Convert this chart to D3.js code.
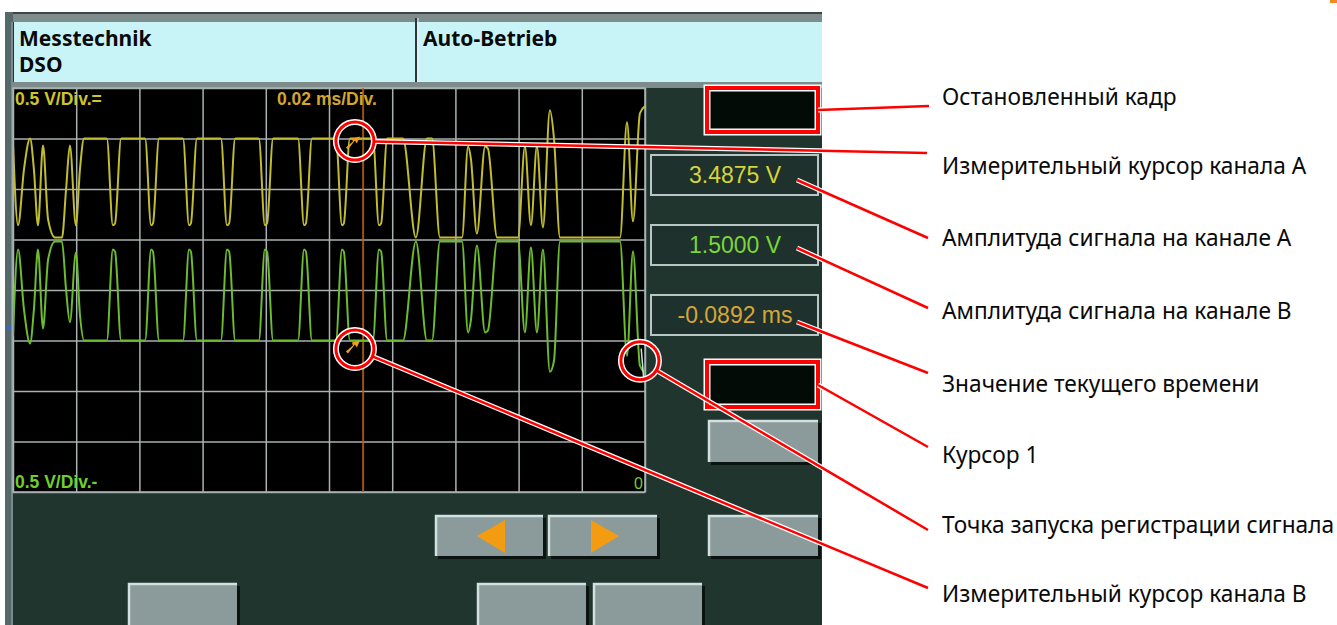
<!DOCTYPE html>
<html lang="ru">
<head>
<meta charset="UTF-8">
<title>DSO – Messtechnik</title>
<script src="https://d3js.org/d3.v7.min.js"></script>
<style>
  body { margin: 0; background: #fff; }
  svg { display: block; }
</style>
</head>
<body>
<div id="chart"></div>
<script>
// time of each trace point in microseconds, 0 = trigger at the right edge
const timeUs = [
  -200.0, -198.4, -196.5, -194.6, -193.4, -192.1, -190.5, -188.9, -186.7, -184.5,
  -183.2, -182.0, -180.1, -178.8, -177.5,
  -170.3, -168.4, -167.7, -165.8,
  -158.2, -156.3, -155.7, -153.8,
  -146.2, -144.3, -143.7, -141.8,
  -134.2, -132.3, -131.6, -129.7,
  -122.2, -120.3, -119.6, -117.7,
  -109.8, -107.9, -107.3, -105.4,
  -97.8, -95.9, -95.3, -93.4,
  -86.1, -84.2, -83.5, -81.6,
  -76.6, -72.5, -69.0, -67.4, -64.9, -57.9,
  -56.0, -55.1, -53.2, -50.6, -49.7, -46.8, -40.2,
  -38.0, -36.1, -34.2, -32.3, -30.1, -28.8, -26.9, -7.9,
  -5.7, -3.8, -1.6, 0.0
];
// channel A (yellow) in volts
const chanA = [
  3.45, 2.64, 3.20, 3.50, 3.20, 2.64, 3.43, 2.70, 2.52, 2.52,
  3.00, 3.43, 2.64, 3.20, 3.50,
  3.50, 2.64, 2.66, 3.50,
  3.50, 2.64, 2.66, 3.50,
  3.50, 2.64, 2.66, 3.50,
  3.50, 2.64, 2.66, 3.50,
  3.50, 2.64, 2.66, 3.50,
  3.50, 2.64, 2.66, 3.50,
  3.50, 2.64, 2.66, 3.50,
  3.50, 2.64, 2.66, 3.50,
  3.50, 2.52, 3.50, 3.50, 2.52, 2.52,
  3.42, 3.30, 2.56, 3.42, 3.40, 2.52, 2.52,
  3.42, 2.64, 3.42, 2.62, 3.78, 3.50, 2.52, 2.52,
  3.66, 2.68, 3.75, 3.82
];
// channel B (green) in volts
const chanB = [
  1.55, 2.40, 1.80, 1.47, 1.80, 2.40, 1.62, 2.30, 2.48, 2.48,
  2.00, 1.68, 2.37, 1.75, 1.50,
  1.50, 2.40, 2.38, 1.50,
  1.50, 2.40, 2.38, 1.50,
  1.50, 2.40, 2.38, 1.50,
  1.50, 2.40, 2.38, 1.50,
  1.50, 2.40, 2.38, 1.50,
  1.50, 2.40, 2.38, 1.50,
  1.50, 2.40, 2.38, 1.50,
  1.50, 2.40, 2.38, 1.50,
  1.50, 2.48, 1.50, 1.50, 2.48, 2.48,
  1.58, 1.70, 2.44, 1.58, 1.60, 2.48, 2.48,
  1.58, 2.42, 1.58, 2.40, 1.19, 1.30, 2.48, 2.48,
  1.35, 2.38, 1.25, 1.18
];

const cursorUs = -89.2;
const readouts = ["3.4875 V", "1.5000 V", "-0.0892 ms"];
const titles = ["Messtechnik", "DSO", "Auto-Betrieb"];
const scaleLabels = ["0.5 V/Div.=", "0.02 ms/Div.", "0.5 V/Div.-", "0"];
const notes = [
  "Остановленный кадр",
  "Измерительный курсор канала A",
  "Амплитуда сигнала на канале A",
  "Амплитуда сигнала на канале B",
  "Значение текущего времени",
  "Курсор 1",
  "Точка запуска регистрации сигнала",
  "Измерительный курсор канала B"
];
// marked points on the traces: [time us, volts]
const callouts = [[-91.8, 3.475], [-91.8, 1.416], [-1.6, 1.30]];

const width = 1337, height = 625;
const plot = {left: 13, right: 645, top: 88, bottom: 492};

const svg = d3.select("#chart").append("svg")
    .attr("width", width)
    .attr("height", height);

const x = d3.scaleLinear().domain([-200, 0]).range([plot.left, plot.right]);
const y = d3.scaleLinear().domain([0, 4]).range([plot.bottom, plot.top]);

// device frame
svg.append("rect").attr("x", 5).attr("y", 12).attr("width", 817).attr("height", 613).attr("fill", "#21352f");
svg.append("rect").attr("x", 5).attr("y", 12).attr("width", 817).attr("height", 10).attr("fill", "#7f8c8c");
svg.append("line").attr("x1", 5).attr("x2", 822).attr("y1", 13).attr("y2", 13).attr("stroke", "#3c4646").attr("stroke-width", 2);
svg.append("rect").attr("x", 14).attr("y", 22).attr("width", 808).attr("height", 60).attr("fill", "#c9f4f7");
svg.append("rect").attr("x", 5).attr("y", 82).attr("width", 817).attr("height", 6).attr("fill", "#7d8b8b");
svg.append("rect").attr("x", 5).attr("y", 12).attr("width", 8).attr("height", 613).attr("fill", "#55686a");
svg.append("line").attr("x1", 12).attr("x2", 12).attr("y1", 22).attr("y2", 625).attr("stroke", "#9fb0b2").attr("stroke-width", 1);
svg.append("line").attr("x1", 416).attr("x2", 416).attr("y1", 18).attr("y2", 82).attr("stroke", "#2e3838").attr("stroke-width", 2);
svg.append("line").attr("x1", 418).attr("x2", 418).attr("y1", 18).attr("y2", 82).attr("stroke", "#eef").attr("stroke-width", 1);

svg.append("text").attr("x", 19).attr("y", 46).text(titles[0]);
svg.append("text").attr("x", 19).attr("y", 72).text(titles[1]);
svg.append("text").attr("x", 423).attr("y", 46).text(titles[2]);
svg.selectAll("text")
    .attr("font-family", "Noto Sans, sans-serif")
    .attr("font-weight", "bold")
    .attr("font-size", 21)
    .attr("fill", "#0a0a0a");

// scope screen
svg.append("rect")
    .attr("x", plot.left).attr("y", plot.top)
    .attr("width", plot.right - plot.left).attr("height", plot.bottom - plot.top)
    .attr("fill", "#000");

const gx = svg.append("g")
    .attr("transform", `translate(0,${plot.bottom})`)
    .call(d3.axisBottom(x).ticks(10).tickSize(-(plot.bottom - plot.top)).tickFormat(""));
const gy = svg.append("g")
    .attr("transform", `translate(${plot.left},0)`)
    .call(d3.axisLeft(y).ticks(8).tickSize(-(plot.right - plot.left)).tickFormat(""));
gx.select(".domain").remove();
gy.select(".domain").remove();
svg.selectAll(".tick line").attr("stroke", "#a9b1b1").attr("stroke-width", 1.5);
svg.append("rect")
    .attr("x", plot.left).attr("y", plot.top)
    .attr("width", plot.right - plot.left).attr("height", plot.bottom - plot.top)
    .attr("fill", "none").attr("stroke", "#a9b1b1").attr("stroke-width", 1.5);

svg.append("clipPath").attr("id", "screen")
  .append("rect")
    .attr("x", plot.left).attr("y", plot.top)
    .attr("width", plot.right - plot.left).attr("height", plot.bottom - plot.top);

// cursor line
svg.append("line")
    .attr("x1", x(cursorUs)).attr("x2", x(cursorUs))
    .attr("y1", plot.top).attr("y2", plot.bottom)
    .attr("stroke", "#b8611c").attr("stroke-width", 2).attr("opacity", 0.85);

const line = d3.line()
    .curve(d3.curveMonotoneX)
    .x(d => x(d[0]))
    .y(d => y(d[1]));

const traces = svg.append("g").attr("clip-path", "url(#screen)");
traces.append("path")
    .attr("d", line(timeUs.map((t, i) => [t, chanA[i]])))
    .attr("fill", "none").attr("stroke", "#c2bd30").attr("stroke-width", 2);
traces.append("path")
    .attr("d", line(timeUs.map((t, i) => [t, chanB[i]])))
    .attr("fill", "none").attr("stroke", "#6dbb2e").attr("stroke-width", 2);

// measuring cursor marks
const markPath = "M-7,5 L0,-1 L-1,-4 L7,-6 L4,1 L2,-2 L-5,7 Z";
[[callouts[0][0], 3.46], [callouts[1][0], 1.44]].forEach(d => {
  traces.append("path")
      .attr("d", markPath)
      .attr("transform", `translate(${x(d[0]) - 2},${y(d[1])})`)
      .attr("fill", "#f0a020");
});
// trigger mark
traces.append("line")
    .attr("x1", x(-1.2)).attr("x2", x(-0.4))
    .attr("y1", y(1.42)).attr("y2", y(1.12))
    .attr("stroke", "#bfe8e0").attr("stroke-width", 1.5);
svg.append("rect").attr("x", 7).attr("y", y(1.65)).attr("width", 4).attr("height", 5).attr("fill", "#3a66c8");

// scale labels on screen
const labelFont = "Liberation Sans, Arial, sans-serif";
svg.append("text").attr("x", 15).attr("y", 105).text(scaleLabels[0])
    .attr("fill", "#cfc52a").attr("font-size", 17.5).attr("font-weight", "bold").attr("font-family", labelFont);
svg.append("text").attr("x", 277).attr("y", 105).text(scaleLabels[1])
    .attr("fill", "#d3a72c").attr("font-size", 17.5).attr("font-weight", "bold").attr("font-family", labelFont);
svg.append("text").attr("x", 15).attr("y", 488).text(scaleLabels[2])
    .attr("fill", "#6fd02a").attr("font-size", 17.5).attr("font-weight", "bold").attr("font-family", labelFont);
svg.append("text").attr("x", 643).attr("y", 489).attr("text-anchor", "end").text(scaleLabels[3])
    .attr("fill", "#6fd02a").attr("font-size", 16).attr("font-family", labelFont);

// readout boxes
const readColors = ["#d6d43a", "#7ad63a", "#d6a63a"];
readouts.forEach((r, i) => {
  const by = 155 + i * 70;
  svg.append("rect").attr("x", 651).attr("y", by).attr("width", 167).attr("height", 40)
      .attr("fill", "#1f312c").attr("stroke", "#b9c6c6").attr("stroke-width", 2);
  svg.append("text").attr("x", 735).attr("y", by + 28).attr("text-anchor", "middle")
      .text(r).attr("fill", readColors[i]).attr("font-size", 23).attr("font-family", labelFont);
});

// buttons
function button(bx, by, bw, bh) {
  svg.append("rect").attr("x", bx + 3).attr("y", by + 3).attr("width", bw).attr("height", bh).attr("fill", "#0b1311");
  svg.append("rect").attr("x", bx).attr("y", by).attr("width", bw).attr("height", bh).attr("fill", "#8b9a9a");
  svg.append("path").attr("d", `M${bx + 1},${by + bh}V${by + 1}H${bx + bw}`)
      .attr("fill", "none").attr("stroke", "#d3e0e0").attr("stroke-width", 2.5);
}
button(708, 420, 110, 42);
button(708, 515, 110, 41);
button(435, 515, 108, 41);
button(548, 515, 109, 41);
button(128, 583, 109, 45);
button(477, 583, 109, 45);
button(593, 583, 109, 45);
svg.append("path").attr("d", "M477,536 L505,520 L505,553 Z").attr("fill", "#f39c12");
svg.append("path").attr("d", "M619,536 L591,520 L591,553 Z").attr("fill", "#f39c12");

// annotations
const red = "#ff0000";
[[707, 88, 111, 44], [707, 362, 111, 45]].forEach(b => {
  svg.append("rect").attr("x", b[0]).attr("y", b[1]).attr("width", b[2]).attr("height", b[3])
      .attr("fill", "#030b07").attr("stroke", "#fff").attr("stroke-width", 7);
  svg.append("rect").attr("x", b[0]).attr("y", b[1]).attr("width", b[2]).attr("height", b[3])
      .attr("fill", "none").attr("stroke", red).attr("stroke-width", 4);
});

const rad = 19;
const centers = callouts.map(d => [x(d[0]), y(d[1])]);
function edge(c, to) {
  const a = Math.atan2(to[1] - c[1], to[0] - c[0]);
  return [c[0] + rad * Math.cos(a), c[1] + rad * Math.sin(a)];
}
const ends = [[929, 106], [927, 153], [928, 238], [928, 308], [928, 373], [928, 447], [928, 530], [928, 588]];
const starts = [[818, 110], edge(centers[0], ends[1]), [797, 180], [797, 248], [797, 322], [818, 385],
  edge(centers[2], ends[6]), edge(centers[1], ends[7])];

const ann = svg.append("g");
starts.forEach((s, i) => {
  ann.append("line").attr("x1", s[0]).attr("y1", s[1]).attr("x2", ends[i][0]).attr("y2", ends[i][1])
      .attr("stroke", "#fff").attr("stroke-width", 5);
});
centers.forEach(c => {
  ann.append("circle").attr("cx", c[0]).attr("cy", c[1]).attr("r", rad)
      .attr("fill", "none").attr("stroke", "#fff").attr("stroke-width", 6);
});
starts.forEach((s, i) => {
  ann.append("line").attr("x1", s[0]).attr("y1", s[1]).attr("x2", ends[i][0]).attr("y2", ends[i][1])
      .attr("stroke", red).attr("stroke-width", 2.5);
});
centers.forEach(c => {
  ann.append("circle").attr("cx", c[0]).attr("cy", c[1]).attr("r", rad)
      .attr("fill", "none").attr("stroke", red).attr("stroke-width", 3);
});

const noteY = [105, 174, 246, 319, 392, 463, 533, 602];
ann.selectAll("text.note")
  .data(notes)
  .join("text")
    .attr("class", "note")
    .attr("x", 942)
    .attr("y", (d, i) => noteY[i])
    .text(d => d)
    .attr("font-family", "Noto Sans, sans-serif")
    .attr("font-size", 22.7)
    .attr("fill", "#0a0a0a");

svg.append("rect").attr("x", 1330).attr("y", 0).attr("width", 7).attr("height", 3).attr("fill", "#f08a1e");
</script>
</body>
</html>
